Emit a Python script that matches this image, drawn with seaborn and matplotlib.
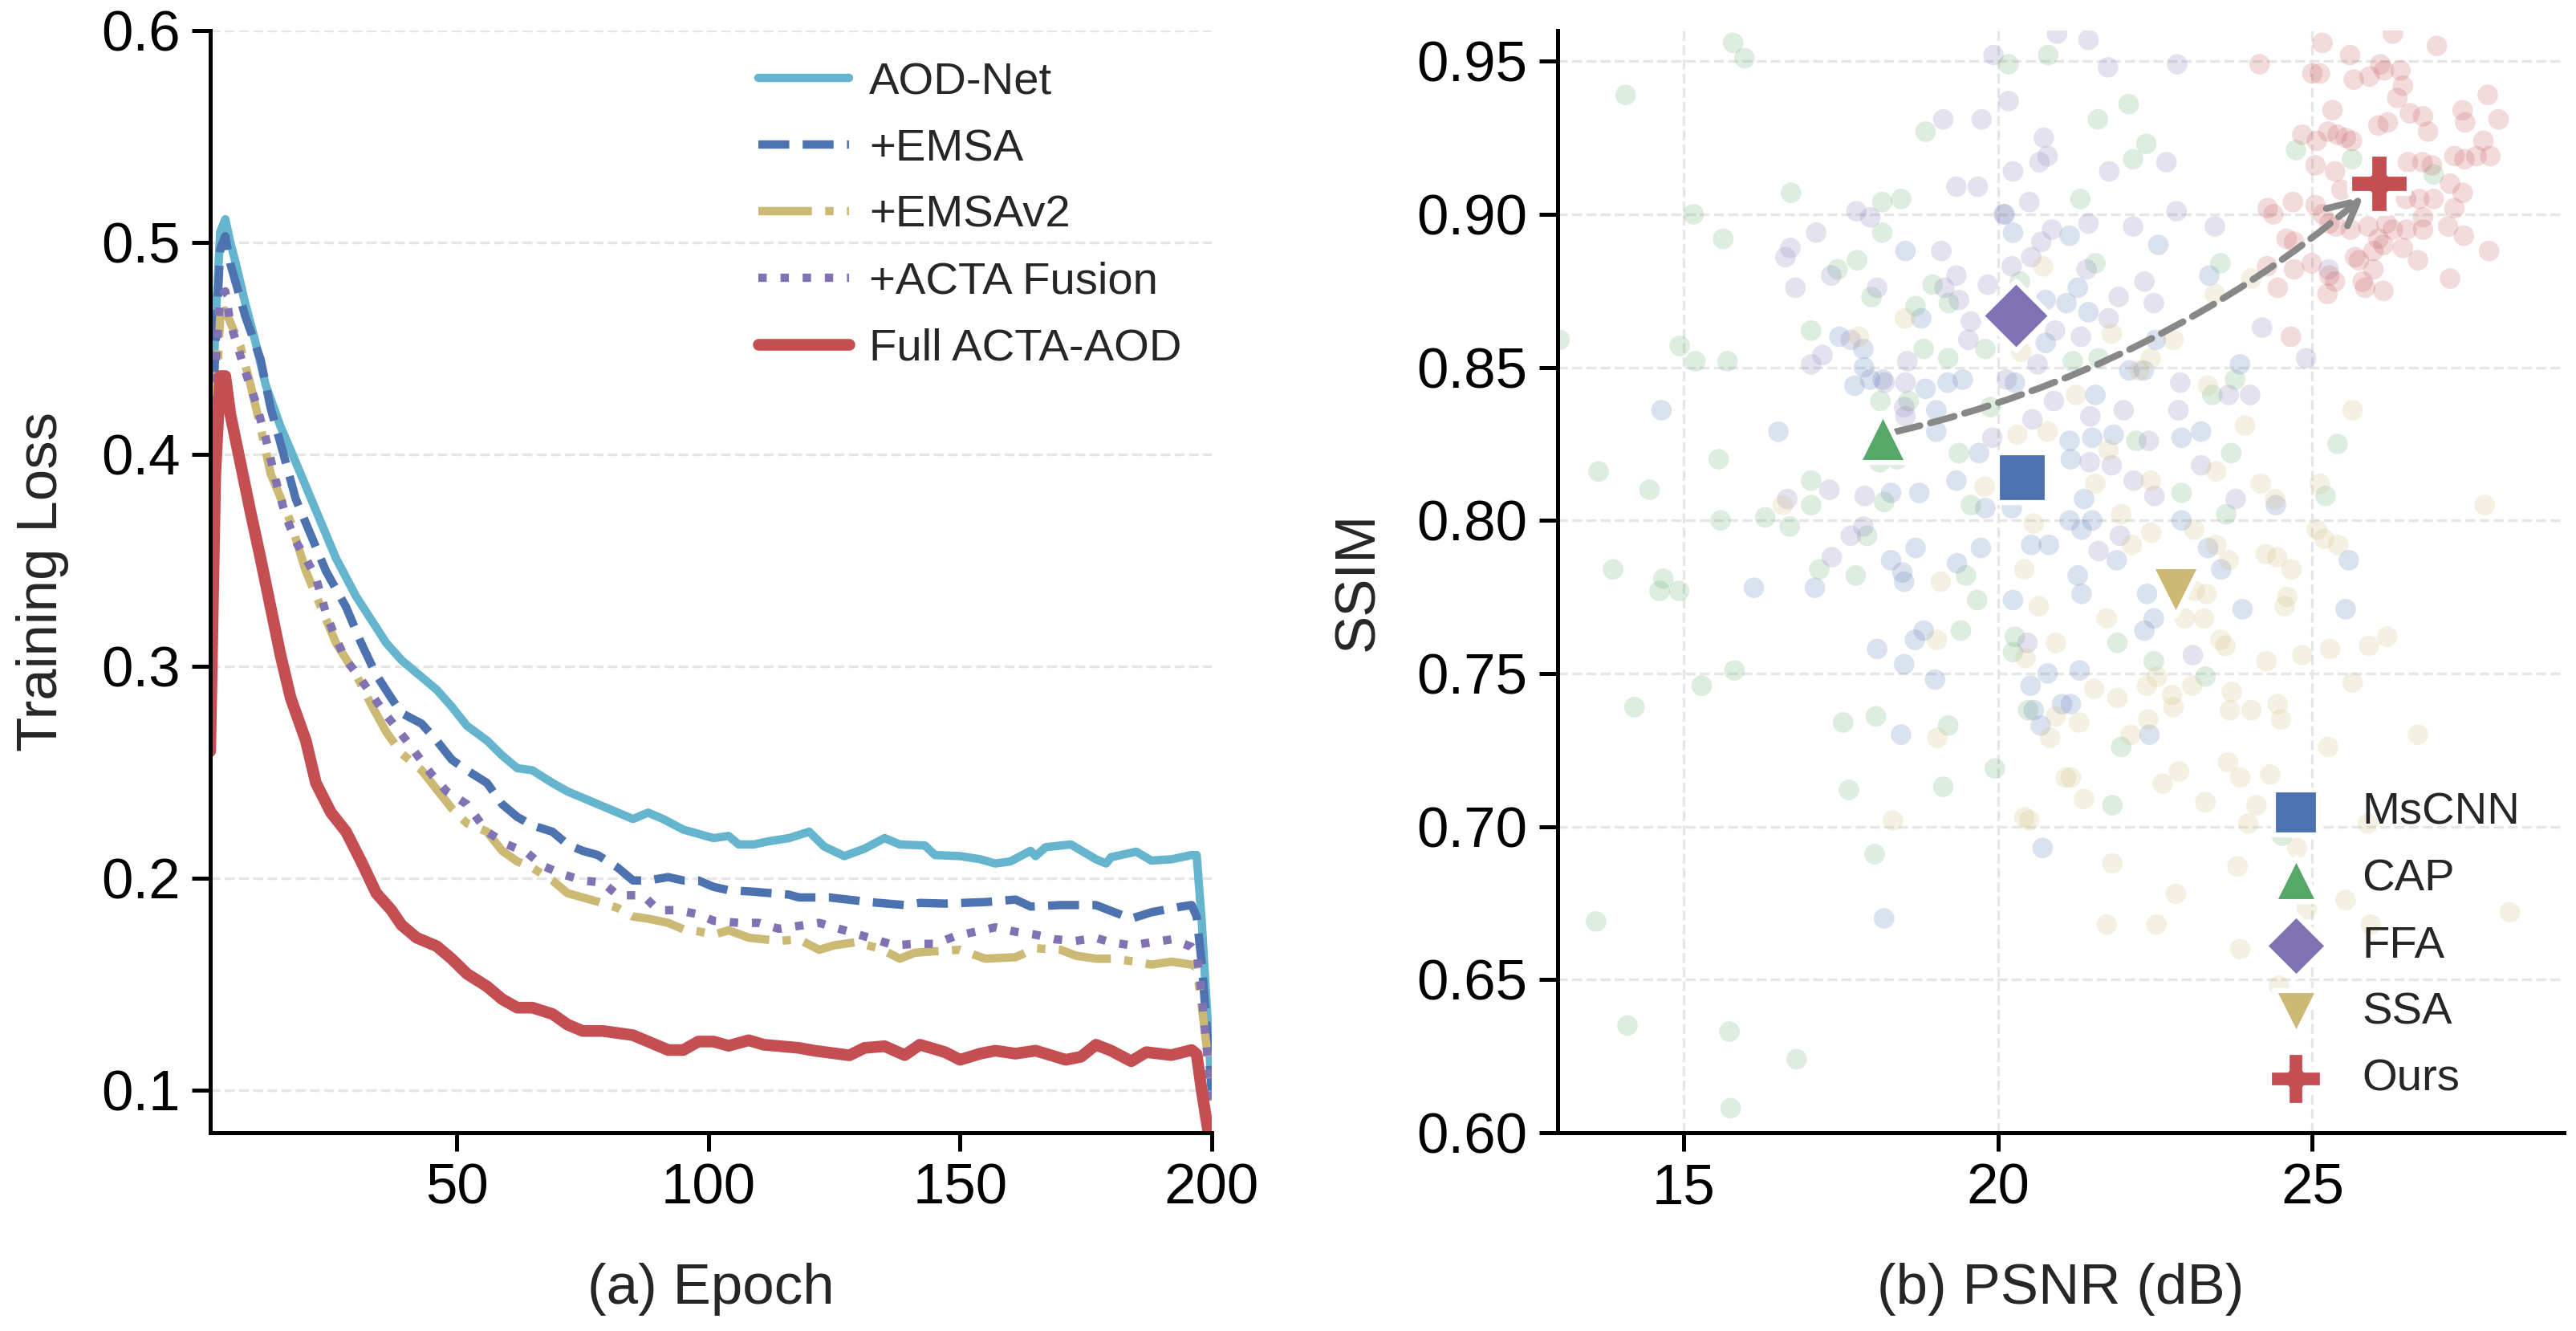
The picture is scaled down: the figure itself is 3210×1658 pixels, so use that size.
import matplotlib
matplotlib.use("Agg")
import matplotlib.pyplot as plt
import seaborn as sns
import pandas as pd

# ---------------- (a) training loss curves ----------------
aod_epoch = [1, 2, 3, 4, 5, 6, 8, 10, 12, 15, 17, 20, 23, 26, 30, 33, 36, 39, 43, 46, 49, 52, 56,
             59, 62, 65, 69, 72, 75, 78, 82, 85, 88, 91, 95, 98, 101, 104, 106, 109, 112, 116, 120,
             123, 127, 131, 135, 138, 143, 145, 150, 154, 157, 160, 164, 165, 167, 172, 177, 179,
             180, 185, 188, 192, 196, 197, 198, 199, 200]
aod_loss = [0.38, 0.46, 0.505, 0.511, 0.50, 0.491, 0.471, 0.453, 0.433, 0.413, 0.402, 0.385, 0.368,
            0.351, 0.333, 0.322, 0.311, 0.303, 0.295, 0.289, 0.281, 0.272, 0.265, 0.258, 0.252, 0.251,
            0.245, 0.241, 0.238, 0.235, 0.231, 0.228, 0.231, 0.228, 0.223, 0.221, 0.219, 0.220, 0.216,
            0.216, 0.2175, 0.219, 0.222, 0.215, 0.2105, 0.214, 0.219, 0.216, 0.2155, 0.211, 0.2105,
            0.209, 0.207, 0.208, 0.213, 0.2105, 0.2147, 0.216, 0.209, 0.207, 0.210, 0.2126, 0.2084,
            0.209, 0.211, 0.211, 0.18, 0.14, 0.10]

emsa_epoch = [1, 2, 3, 4, 5, 8, 11, 13, 15, 18, 21, 24, 28, 31, 34, 37, 39, 43, 46, 49, 52, 56, 59,
              62, 65, 69, 72, 75, 78, 82, 85, 88, 92, 95, 98, 101, 104, 109, 116, 118, 124, 132, 139,
              142, 147, 155, 161, 164, 170, 177, 180, 184, 188, 194, 196, 197, 198, 199, 200]
emsa_loss = [0.37, 0.45, 0.497, 0.503, 0.49, 0.465, 0.445, 0.422, 0.405, 0.379, 0.362, 0.345, 0.328,
             0.311, 0.296, 0.285, 0.278, 0.273, 0.265, 0.256, 0.251, 0.245, 0.235, 0.229, 0.225, 0.222,
             0.216, 0.213, 0.211, 0.205, 0.199, 0.199, 0.2006, 0.199, 0.199, 0.196, 0.1944, 0.1937,
             0.1923, 0.191, 0.191, 0.1888, 0.1874, 0.1884, 0.1881, 0.1888, 0.190, 0.1867, 0.1874,
             0.1874, 0.1846, 0.181, 0.184, 0.1867, 0.1874, 0.182, 0.16, 0.13, 0.10]

emsav2_epoch = [1, 2, 3, 4, 7, 9, 11, 13, 17, 20, 23, 26, 30, 33, 36, 39, 43, 46, 49, 52, 56, 59, 62,
                65, 69, 72, 75, 78, 82, 85, 88, 92, 95, 98, 101, 104, 108, 114, 118, 122, 125, 129,
                134, 138, 141, 145, 150, 155, 161, 165, 170, 173, 177, 180, 185, 188, 192, 196, 197,
                198, 199, 200]
emsav2_loss = [0.33, 0.42, 0.465, 0.468, 0.451, 0.433, 0.413, 0.391, 0.368, 0.345, 0.328, 0.311,
               0.296, 0.282, 0.269, 0.259, 0.251, 0.242, 0.233, 0.226, 0.222, 0.213, 0.208, 0.205,
               0.199, 0.193, 0.191, 0.189, 0.186, 0.182, 0.181, 0.179, 0.176, 0.175, 0.1734, 0.1755,
               0.172, 0.1705, 0.1712, 0.1663, 0.1684, 0.1698, 0.167, 0.1621, 0.1649, 0.1656, 0.1663,
               0.1621, 0.1628, 0.167, 0.1663, 0.1635, 0.1621, 0.1621, 0.1607, 0.1593, 0.1607, 0.1593,
               0.158, 0.14, 0.12, 0.095]

acta_epoch = [1, 2, 3, 4, 5, 8, 10, 12, 14, 16, 18, 20, 22, 24, 26, 28, 30, 33, 36, 40, 45, 48, 52,
              56, 60, 64, 67, 71, 75, 79, 82, 87, 90, 94, 98, 101, 106, 110, 114, 118, 122, 125, 129,
              133, 137, 141, 145, 149, 153, 157, 161, 165, 169, 173, 177, 180, 184, 188, 192, 196,
              197, 198, 199, 200]
acta_loss = [0.34, 0.44, 0.475, 0.477, 0.462, 0.439, 0.425, 0.408, 0.388, 0.371, 0.359, 0.351, 0.342,
             0.325, 0.313, 0.303, 0.297, 0.287, 0.277, 0.265, 0.249, 0.241, 0.235, 0.222, 0.216,
             0.212, 0.206, 0.202, 0.199, 0.198, 0.192, 0.192, 0.185, 0.185, 0.183, 0.180, 0.179,
             0.179, 0.1762, 0.1776, 0.179, 0.1769, 0.1741, 0.1712, 0.1684, 0.1691, 0.1691, 0.1727,
             0.1748, 0.1769, 0.1748, 0.1734, 0.1712, 0.1705, 0.1719, 0.1698, 0.1684, 0.1698, 0.1712,
             0.1677, 0.165, 0.145, 0.12, 0.095]

full_epoch = [1, 2, 3, 4, 5, 7, 9, 11, 13, 15, 17, 20, 22, 25, 28, 31, 34, 37, 39, 42, 46, 49, 52,
              56, 59, 62, 65, 69, 72, 75, 79, 82, 85, 88, 92, 95, 98, 101, 104, 108, 111, 118, 121,
              128, 131, 135, 139, 142, 147, 150, 154, 157, 161, 165, 171, 174, 177, 180, 184, 187,
              192, 196, 197, 198, 199, 200]
full_loss = [0.26, 0.39, 0.437, 0.437, 0.419, 0.396, 0.373, 0.351, 0.328, 0.305, 0.285, 0.265, 0.245,
             0.231, 0.222, 0.208, 0.193, 0.185, 0.178, 0.172, 0.168, 0.162, 0.155, 0.149, 0.143,
             0.139, 0.139, 0.136, 0.131, 0.128, 0.128, 0.127, 0.126, 0.123, 0.119, 0.119, 0.123,
             0.123, 0.121, 0.1236, 0.1215, 0.120, 0.1187, 0.1165, 0.120, 0.1208, 0.1166, 0.1215,
             0.118, 0.1144, 0.1173, 0.1187, 0.1173, 0.1187, 0.1144, 0.1158, 0.1215, 0.1187, 0.1137,
             0.118, 0.1166, 0.119, 0.117, 0.10, 0.085, 0.07]

# ---------------- (b) PSNR / SSIM scatter ----------------
mscnn_psnr = [14.65, 16.51, 18.53, 18.78, 17.86, 17.48, 17.87, 17.97, 18.17, 17.72, 18.85, 19.20,
              19.44, 19.02, 19.02, 19.70, 19.34, 18.75, 18.30, 19.80, 20.22, 20.27, 20.24, 20.11,
              19.73, 18.69, 18.30, 18.48, 19.35, 20.53, 20.81, 20.76, 20.76, 21.14, 22.55, 23.36,
              21.27, 21.44, 21.09, 22.51, 22.09, 22.32, 23.85, 21.55, 21.50, 21.84, 21.14, 22.92,
              23.23, 21.16, 21.37, 21.14, 21.50, 22.92, 21.33, 24.42, 23.34, 21.89, 25.58, 23.55,
              21.27, 16.12, 17.09, 18.51, 18.08, 18.68, 18.82, 18.51, 19.00, 18.46, 20.24, 20.79,
              20.52, 20.57, 20.68, 21.02, 20.71, 18.19, 21.33, 22.37, 22.48, 22.33, 23.89, 25.53,
              21.30, 21.16, 22.41]
mscnn_ssim = [0.836, 0.829, 0.888, 0.866, 0.856, 0.860, 0.850, 0.846, 0.846, 0.844, 0.843, 0.845,
              0.846, 0.836, 0.829, 0.822, 0.813, 0.809, 0.809, 0.804, 0.804, 0.845, 0.894, 0.900,
              0.791, 0.791, 0.787, 0.783, 0.786, 0.792, 0.792, 0.872, 0.858, 0.893, 0.890, 0.880,
              0.876, 0.868, 0.871, 0.859, 0.849, 0.849, 0.851, 0.841, 0.827, 0.828, 0.826, 0.827,
              0.829, 0.820, 0.807, 0.800, 0.800, 0.800, 0.797, 0.805, 0.791, 0.787, 0.787, 0.784,
              0.782, 0.778, 0.778, 0.780, 0.758, 0.761, 0.764, 0.753, 0.748, 0.730, 0.774, 0.750,
              0.746, 0.738, 0.733, 0.740, 0.693, 0.670, 0.776, 0.776, 0.768, 0.764, 0.771, 0.771,
              0.751, 0.740, 0.730]

cap_psnr = [15.79, 15.97, 14.08, 15.16, 15.63, 16.71, 18.16, 18.46, 18.16, 17.76, 17.45, 18.85,
            17.03, 14.94, 15.19, 15.70, 13.03, 18.96, 19.22, 18.69, 17.99, 18.82, 19.21, 18.13,
            18.58, 19.88, 19.38, 18.12, 18.40, 15.56, 13.65, 14.46, 17.03, 17.03, 18.19, 19.57,
            16.30, 15.59, 16.69, 17.92, 19.80, 20.35, 20.80, 20.17, 13.88, 14.68, 17.16, 17.74,
            19.49, 21.59, 22.08, 22.36, 22.15, 21.31, 24.74, 25.63, 26.93, 21.55, 23.54, 21.19,
            21.60, 23.41, 23.77, 22.20, 23.71, 22.92, 23.63, 25.40, 25.21, 14.62, 14.93, 15.81,
            15.29, 14.22, 17.54, 18.06, 19.21, 19.67, 19.41, 20.27, 20.24, 20.48, 19.95, 17.63,
            19.13, 18.04, 13.61, 14.11, 15.73, 16.80, 15.75, 21.90, 22.48, 23.30, 21.96, 21.82,
            24.52]
cap_ssim = [0.956, 0.951, 0.939, 0.900, 0.892, 0.907, 0.904, 0.905, 0.894, 0.885, 0.882, 0.927,
            0.862, 0.857, 0.852, 0.852, 0.859, 0.877, 0.871, 0.870, 0.873, 0.856, 0.853, 0.839,
            0.839, 0.837, 0.822, 0.819, 0.820, 0.820, 0.816, 0.810, 0.813, 0.805, 0.806, 0.805,
            0.801, 0.800, 0.798, 0.795, 0.856, 0.878, 0.952, 0.949, 0.784, 0.781, 0.784, 0.782,
            0.782, 0.931, 0.936, 0.923, 0.918, 0.905, 0.921, 0.918, 0.913, 0.884, 0.884, 0.852,
            0.853, 0.841, 0.846, 0.826, 0.822, 0.809, 0.802, 0.825, 0.808, 0.777, 0.777, 0.751,
            0.746, 0.739, 0.734, 0.736, 0.733, 0.774, 0.764, 0.762, 0.757, 0.738, 0.719, 0.712,
            0.713, 0.691, 0.669, 0.635, 0.633, 0.624, 0.608, 0.760, 0.754, 0.749, 0.726, 0.707,
            0.697]

ffa_psnr = [19.13, 19.74, 20.17, 19.93, 20.94, 20.73, 20.66, 20.79, 20.24, 19.34, 19.68, 20.50,
            20.09, 17.75, 17.97, 17.11, 16.70, 16.62, 17.35, 16.78, 19.10, 19.34, 19.15, 19.38,
            18.08, 19.84, 19.57, 19.53, 20.22, 20.53, 20.69, 20.86, 20.91, 17.21, 17.03, 17.66,
            18.56, 18.53, 18.20, 18.51, 18.53, 19.91, 20.55, 20.63, 20.14, 20.89, 17.32, 16.65,
            17.88, 17.66, 17.86, 17.36, 21.44, 21.75, 22.85, 21.77, 22.68, 22.84, 21.44, 22.15,
            23.45, 21.41, 22.33, 21.92, 22.48, 21.76, 21.32, 24.20, 24.90, 25.26, 22.90, 24.01,
            23.67, 22.00, 22.87, 21.47, 22.40, 21.81, 21.46, 23.23, 23.78, 22.16, 22.49, 21.94,
            21.60, 20.47, 23.10]
ffa_ssim = [0.931, 0.931, 0.937, 0.952, 0.959, 0.925, 0.917, 0.919, 0.914, 0.909, 0.909, 0.904,
            0.900, 0.901, 0.899, 0.894, 0.889, 0.886, 0.880, 0.876, 0.888, 0.880, 0.876, 0.872,
            0.876, 0.877, 0.865, 0.859, 0.883, 0.886, 0.891, 0.895, 0.862, 0.854, 0.851, 0.859,
            0.852, 0.845, 0.845, 0.837, 0.834, 0.827, 0.833, 0.851, 0.846, 0.839, 0.810, 0.807,
            0.808, 0.795, 0.798, 0.788, 0.957, 0.948, 0.949, 0.914, 0.917, 0.901, 0.897, 0.896,
            0.896, 0.882, 0.878, 0.873, 0.871, 0.866, 0.860, 0.863, 0.853, 0.882, 0.845, 0.841,
            0.841, 0.836, 0.836, 0.834, 0.826, 0.818, 0.819, 0.818, 0.807, 0.813, 0.808, 0.795,
            0.790, 0.760, 0.756]

ssa_psnr = [18.52, 17.79, 20.31, 20.79, 20.72, 20.37, 19.79, 16.58, 20.57, 20.42, 19.09, 24.03,
            23.45, 21.81, 22.79, 22.43, 22.25, 21.24, 23.34, 23.93, 25.64, 21.76, 23.47, 21.55,
            22.43, 24.18, 24.41, 25.12, 27.74, 21.96, 22.44, 23.12, 22.13, 23.47, 24.26, 24.44,
            24.67, 25.07, 25.19, 25.41, 23.67, 20.65, 20.92, 19.03, 20.44, 20.92, 20.83, 21.08,
            19.04, 18.33, 20.42, 20.50, 21.73, 22.97, 23.28, 23.32, 23.13, 23.54, 23.62, 24.56,
            24.60, 24.27, 24.84, 25.28, 25.90, 26.19, 25.64, 21.53, 21.90, 22.37, 22.53, 22.77,
            22.79, 23.09, 23.72, 23.69, 24.03, 24.45, 24.50, 21.29, 22.39, 22.11, 26.68, 25.25,
            21.16, 22.62, 22.88, 23.66, 23.85, 24.33, 21.37, 23.30, 24.11, 23.98, 25.88, 24.76,
            21.82, 23.81, 22.83, 25.53, 24.91, 21.73, 22.52, 25.93, 28.14, 23.85, 24.47]
ssa_ssim = [0.866, 0.860, 0.828, 0.829, 0.883, 0.855, 0.811, 0.805, 0.799, 0.784, 0.780, 0.879,
            0.874, 0.861, 0.859, 0.853, 0.849, 0.841, 0.844, 0.831, 0.836, 0.823, 0.816, 0.812,
            0.813, 0.812, 0.807, 0.812, 0.805, 0.802, 0.796, 0.797, 0.792, 0.792, 0.789, 0.788,
            0.784, 0.797, 0.794, 0.792, 0.787, 0.772, 0.760, 0.761, 0.755, 0.736, 0.729, 0.716,
            0.729, 0.702, 0.703, 0.702, 0.768, 0.768, 0.768, 0.776, 0.777, 0.761, 0.759, 0.772,
            0.775, 0.754, 0.756, 0.758, 0.759, 0.762, 0.747, 0.745, 0.742, 0.746, 0.749, 0.743,
            0.739, 0.746, 0.744, 0.738, 0.738, 0.740, 0.735, 0.734, 0.735, 0.730, 0.730, 0.726,
            0.716, 0.714, 0.718, 0.721, 0.716, 0.717, 0.709, 0.708, 0.707, 0.701, 0.701, 0.693,
            0.688, 0.687, 0.678, 0.676, 0.673, 0.668, 0.668, 0.668, 0.672, 0.660, 0.648]

ours_psnr = [25.16, 25.60, 26.28, 26.98, 24.16, 25.00, 25.12, 25.66, 25.91, 26.08, 26.14, 26.40,
             26.44, 26.35, 25.32, 26.55, 26.76, 26.84, 26.05, 26.20, 27.39, 27.43, 27.79, 27.96,
             24.84, 25.07, 25.25, 25.40, 25.53, 25.63, 27.72, 27.26, 27.42, 27.61, 27.83, 25.05,
             25.36, 26.52, 26.75, 26.90, 27.19, 27.39, 26.70, 26.93, 26.49, 25.46, 24.69, 24.29,
             24.38, 25.05, 25.17, 27.26, 26.76, 27.16, 27.41, 25.27, 25.38, 25.61, 25.89, 26.18,
             26.28, 26.50, 26.76, 26.05, 26.13, 25.97, 26.44, 27.81, 24.59, 24.71, 24.28, 24.71,
             24.99, 25.68, 25.74, 25.97, 26.68, 25.27, 25.36, 25.80, 25.84, 26.13, 27.19, 24.45,
             25.24, 24.66]
ours_ssim = [0.956, 0.952, 0.959, 0.955, 0.949, 0.946, 0.946, 0.944, 0.945, 0.949, 0.947, 0.947,
             0.942, 0.938, 0.934, 0.933, 0.932, 0.927, 0.929, 0.930, 0.934, 0.930, 0.939, 0.931,
             0.926, 0.924, 0.927, 0.926, 0.925, 0.924, 0.924, 0.919, 0.918, 0.919, 0.919, 0.916,
             0.914, 0.917, 0.917, 0.916, 0.910, 0.907, 0.905, 0.905, 0.905, 0.908, 0.904, 0.902,
             0.900, 0.903, 0.900, 0.902, 0.899, 0.896, 0.893, 0.897, 0.896, 0.895, 0.896, 0.897,
             0.895, 0.895, 0.895, 0.892, 0.890, 0.888, 0.889, 0.888, 0.892, 0.891, 0.883, 0.882,
             0.884, 0.886, 0.885, 0.882, 0.885, 0.880, 0.878, 0.878, 0.876, 0.875, 0.879, 0.876,
             0.874, 0.860]

methods = ["MsCNN", "CAP", "FFA", "SSA", "Ours"]
best_psnr = [20.39, 18.17, 20.28, 22.83, 26.07]
best_ssim = [0.814, 0.827, 0.867, 0.777, 0.910]

# ---------------- style ----------------
sns.set_theme(style="ticks")
plt.rcParams["font.family"] = ["Liberation Sans", "DejaVu Sans"]
plt.rcParams["axes.linewidth"] = 1.2
plt.rcParams["xtick.major.width"] = 1.2
plt.rcParams["ytick.major.width"] = 1.2
plt.rcParams["xtick.major.size"] = 5.5
plt.rcParams["ytick.major.size"] = 5.5
plt.rcParams["xtick.labelsize"] = 17
plt.rcParams["ytick.labelsize"] = 17
plt.rcParams["axes.labelsize"] = 17
plt.rcParams["axes.edgecolor"] = "black"
plt.rcParams["xtick.color"] = "black"
plt.rcParams["ytick.color"] = "black"

deep = sns.color_palette("deep")
c_blue, c_gold, c_green, c_red, c_purple, c_cyan = deep[0], deep[8], deep[2], deep[3], deep[4], deep[9]

fig = plt.figure(figsize=(10.7, 5.5267), dpi=300)
ax1 = fig.add_axes([0.0816, 0.149, 0.3888, 0.828])
ax2 = fig.add_axes([0.6047, 0.149, 0.3906, 0.828])

# ---- left panel ----
curves = [
    ("AOD-Net", aod_epoch, aod_loss, c_cyan, "-", 2.5),
    ("+EMSA", emsa_epoch, emsa_loss, c_blue, "--", 2.5),
    ("+EMSAv2", emsav2_epoch, emsav2_loss, c_gold, "-.", 2.5),
    ("+ACTA Fusion", acta_epoch, acta_loss, c_purple, ":", 2.5),
    ("Full ACTA-AOD", full_epoch, full_loss, c_red, "-", 3.5),
]
for name, ep, loss, col, ls, lw in curves:
    df = pd.DataFrame({"epoch": ep, "loss": loss})
    sns.lineplot(data=df, x="epoch", y="loss", ax=ax1, color=col, linestyle=ls,
                 linewidth=lw, label=name)

ax1.set_xlim(1, 200)
ax1.set_ylim(0.08, 0.6)
ax1.set_xticks([50, 100, 150, 200])
ax1.set_yticks([0.1, 0.2, 0.3, 0.4, 0.5, 0.6])
ax1.yaxis.grid(True, linestyle="--", linewidth=0.8, color="#e6e6e6")
ax1.set_axisbelow(True)
ax1.set_xlabel("(a) Epoch", labelpad=14)
ax1.set_ylabel("Training Loss", labelpad=9.5)
ax1.legend(loc="upper right", bbox_to_anchor=(0.988, 0.988), borderaxespad=0,
           frameon=False, fontsize=13.5, handlelength=2.0, labelspacing=0.55,
           handletextpad=0.45)

# ---- right panel ----
bg = [
    (mscnn_psnr, mscnn_ssim, c_blue),
    (cap_psnr, cap_ssim, c_green),
    (ffa_psnr, ffa_ssim, c_purple),
    (ssa_psnr, ssa_ssim, c_gold),
    (ours_psnr, ours_ssim, c_red),
]
for xs, ys, col in bg:
    sns.scatterplot(x=xs, y=ys, ax=ax2, color=col, alpha=0.2, s=38,
                    edgecolor="none", legend=False, zorder=2)

markers = ["s", "^", "D", "v", "P"]
sizes = [216, 216, 216, 216, 310]
colors = [c_blue, c_green, c_purple, c_gold, c_red]
for name, x, y, m, sz, col in zip(methods, best_psnr, best_ssim, markers, sizes, colors):
    sns.scatterplot(x=[x], y=[y], ax=ax2, marker=m, s=sz, color=col, edgecolor="white",
                    linewidth=1.5, label=name, zorder=5)

ax2.annotate("", xy=(25.82, 0.906), xytext=(18.38, 0.829),
             arrowprops=dict(arrowstyle="->", color="#888888", lw=2, linestyle="--",
                             connectionstyle="arc3,rad=0.12", shrinkA=0, shrinkB=0,
                             mutation_scale=22),
             zorder=4)

ax2.set_xlim(13, 29)
ax2.set_ylim(0.6, 0.96)
ax2.set_xticks([15, 20, 25])
ax2.set_yticks([0.60, 0.65, 0.70, 0.75, 0.80, 0.85, 0.90, 0.95])
ax2.set_yticklabels(["0.60", "0.65", "0.70", "0.75", "0.80", "0.85", "0.90", "0.95"])
ax2.grid(True, linestyle="--", linewidth=0.8, color="#e6e6e6")
ax2.set_axisbelow(True)
ax2.set_xlabel("(b) PSNR (dB)", labelpad=14)
ax2.set_ylabel("SSIM", labelpad=9.5)
ax2.legend(loc="lower right", bbox_to_anchor=(0.974, 0.013), borderaxespad=0,
           frameon=False, fontsize=13.5, labelspacing=0.55, handletextpad=0.45,
           scatterpoints=1, markerscale=0.9)

sns.despine(fig=fig)

fig.savefig("out.png", dpi=300)
